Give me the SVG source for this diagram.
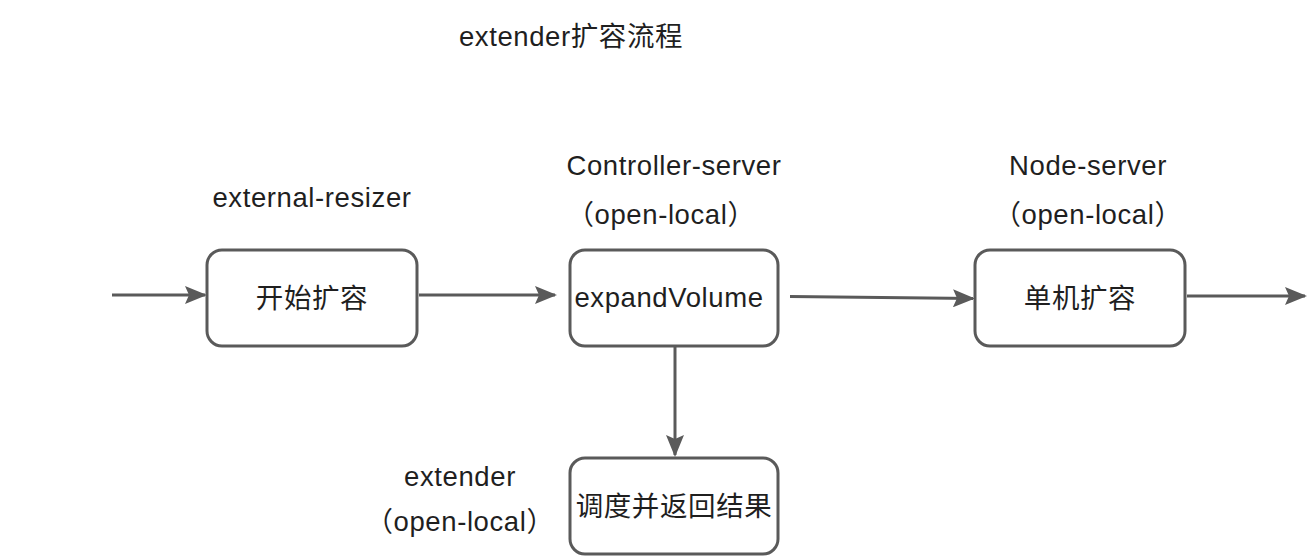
<svg xmlns="http://www.w3.org/2000/svg" width="1308" height="560" viewBox="0 0 1308 560">
<style>
.box{fill:#ffffff;stroke:#5a5a5a;stroke-width:3}
.t{font-family:"Liberation Sans","Noto Sans CJK SC",sans-serif;font-size:27.5px;letter-spacing:0.6px;fill:#1f1f1f;text-anchor:middle}
.c{fill:none;stroke:#5a5a5a;stroke-width:3;marker-end:url(#ah)}
</style>
<defs>
<marker id="ah" viewBox="0 0 22 18" refX="20" refY="9" markerWidth="22" markerHeight="18" markerUnits="userSpaceOnUse" orient="auto">
<path d="M0,0 L22,9 L0,18 L4,9 Z" fill="#5a5a5a"/>
</marker>
</defs>
<rect width="1308" height="560" fill="#ffffff"/>
<text class="t" x="571" y="46">extender扩容流程</text>
<g id="connectors">
<line class="c" x1="112" y1="295" x2="205" y2="295"/>
<line class="c" x1="419" y1="295" x2="555" y2="295"/>
<line class="c" x1="790" y1="296.5" x2="973" y2="298.5"/>
<line class="c" x1="1187" y1="296" x2="1305" y2="296"/>
<line class="c" x1="675" y1="347" x2="675" y2="455"/>
</g>
<g id="node-start">
<rect class="box" x="207" y="250" width="210" height="96" rx="15"/>
<text class="t" x="312" y="308">开始扩容</text>
<text class="t" x="312" y="207">external-resizer</text>
</g>
<g id="node-expand">
<rect class="box" x="570" y="250" width="208" height="96" rx="15"/>
<text class="t" x="669" y="307">expandVolume</text>
<text class="t" x="674" y="175">Controller-server</text>
<text class="t" x="661" y="224">（open-local）</text>
</g>
<g id="node-single">
<rect class="box" x="975" y="250" width="210" height="96" rx="15"/>
<text class="t" x="1080" y="308">单机扩容</text>
<text class="t" x="1088" y="175">Node-server</text>
<text class="t" x="1088" y="224">（open-local）</text>
</g>
<g id="node-extender">
<rect class="box" x="570" y="458" width="208" height="96" rx="15"/>
<text class="t" x="674" y="516">调度并返回结果</text>
<text class="t" x="460" y="486">extender</text>
<text class="t" x="460" y="531">（open-local）</text>
</g>
</svg>
